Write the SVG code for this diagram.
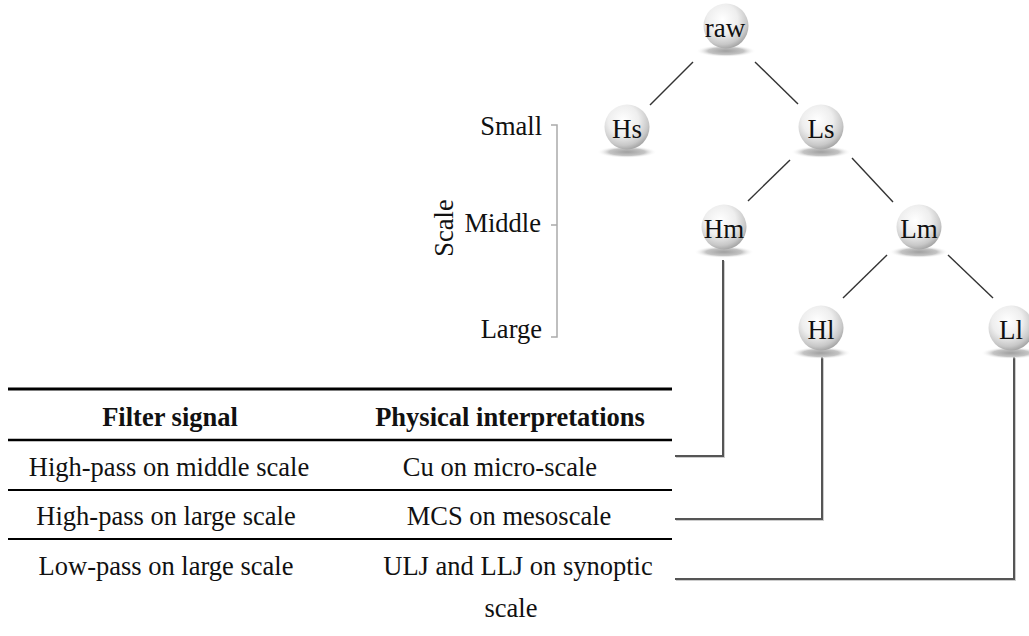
<svg xmlns="http://www.w3.org/2000/svg" width="1029" height="636" viewBox="0 0 1029 636">
<style>
.nl{font-size:27px;text-anchor:middle;fill:#111;}
.sl{font-size:26.5px;text-anchor:end;fill:#111;}
.tb{font-size:26.5px;text-anchor:middle;fill:#111;}
.th{font-size:26.5px;font-weight:bold;text-anchor:middle;fill:#111;}
.edge{stroke:#333;stroke-width:1.4;fill:none;}
.conn{stroke:#555;stroke-width:2;fill:none;}
.connsh{stroke:#ccc;stroke-width:2;fill:none;}
.brk{stroke:#aaa;stroke-width:1.5;fill:none;}
.rule{stroke:#000;}
</style>
<defs>
<radialGradient id="ball" cx="0.42" cy="0.35" r="0.68">
<stop offset="0" stop-color="#ffffff"/>
<stop offset="0.5" stop-color="#eeeeee"/>
<stop offset="0.82" stop-color="#c8c8c8"/>
<stop offset="1" stop-color="#9f9f9f"/>
</radialGradient>
<radialGradient id="shadow" cx="0.5" cy="0.5" r="0.5">
<stop offset="0" stop-color="#a0a0a0"/>
<stop offset="0.6" stop-color="#c4c4c4"/>
<stop offset="1" stop-color="#ffffff" stop-opacity="0"/>
</radialGradient>
<g id="sphere">
<ellipse cx="0" cy="25" rx="30" ry="6" fill="url(#shadow)"/>
<circle cx="0" cy="0" r="22.5" fill="url(#ball)"/>
</g>
</defs>
<rect width="1029" height="636" fill="#fff"/>

<g id="connectors">
<line class="edge" x1="693" y1="62" x2="650" y2="105"/>
<line class="edge" x1="755" y1="62" x2="798" y2="104"/>
<line class="edge" x1="790" y1="160" x2="748" y2="201"/>
<line class="edge" x1="852" y1="158" x2="893" y2="202"/>
<line class="edge" x1="887" y1="255" x2="843" y2="298"/>
<line class="edge" x1="948" y1="255" x2="993" y2="298"/>
<path class="connsh" d="M724,261 V457 H676"/>
<path class="connsh" d="M823,358 V520 H676"/>
<path class="connsh" d="M1015,358 V580 H676"/>
<path class="conn" d="M723,260 V456 H675"/>
<path class="conn" d="M822,357 V519 H675"/>
<path class="conn" d="M1014,357 V579 H675"/>
</g>

<g id="node-raw"><use href="#sphere" x="726" y="26"/><text class="nl" font-family="Liberation Serif, serif" x="725" y="37">raw</text></g>
<g id="node-Hs"><use href="#sphere" x="627" y="127"/><text class="nl" font-family="Liberation Serif, serif" x="627" y="138">Hs</text></g>
<g id="node-Ls"><use href="#sphere" x="821" y="127"/><text class="nl" font-family="Liberation Serif, serif" x="821" y="138">Ls</text></g>
<g id="node-Hm"><use href="#sphere" x="724" y="227"/><text class="nl" font-family="Liberation Serif, serif" x="724" y="238">Hm</text></g>
<g id="node-Lm"><use href="#sphere" x="919" y="227"/><text class="nl" font-family="Liberation Serif, serif" x="919" y="238">Lm</text></g>
<g id="node-Hl"><use href="#sphere" x="821" y="328"/><text class="nl" font-family="Liberation Serif, serif" x="821" y="339">Hl</text></g>
<g id="node-Ll"><use href="#sphere" x="1011" y="328"/><text class="nl" font-family="Liberation Serif, serif" x="1011" y="339">Ll</text></g>

<g id="scale-axis">
<path class="brk" d="M551,125 H557 V337 H551 M551,225 H557"/>
<text class="sl" font-family="Liberation Serif, serif" x="542" y="135">Small</text>
<text class="sl" font-family="Liberation Serif, serif" x="541" y="232">Middle</text>
<text class="sl" font-family="Liberation Serif, serif" x="542" y="338">Large</text>
<text font-family="Liberation Serif, serif" font-size="26.5" fill="#111" text-anchor="middle" transform="translate(453,228) rotate(-90)">Scale</text>
</g>

<g id="table">
<line class="rule" x1="8" y1="389" x2="672" y2="389" stroke-width="3"/>
<line class="rule" x1="8" y1="440" x2="672" y2="440" stroke-width="2.6"/>
<line class="rule" x1="8" y1="490" x2="672" y2="490" stroke-width="2.2"/>
<line class="rule" x1="8" y1="539" x2="672" y2="539" stroke-width="2.2"/>
<text class="th" font-family="Liberation Serif, serif" x="170" y="426">Filter signal</text>
<text class="th" font-family="Liberation Serif, serif" x="510" y="426">Physical interpretations</text>
<text class="tb" font-family="Liberation Serif, serif" x="169" y="476">High-pass on middle scale</text>
<text class="tb" font-family="Liberation Serif, serif" x="500" y="476">Cu on micro-scale</text>
<text class="tb" font-family="Liberation Serif, serif" x="166" y="525">High-pass on large scale</text>
<text class="tb" font-family="Liberation Serif, serif" x="509" y="525">MCS on mesoscale</text>
<text class="tb" font-family="Liberation Serif, serif" x="166" y="575">Low-pass on large scale</text>
<text class="tb" font-family="Liberation Serif, serif" x="518" y="575">ULJ and LLJ on synoptic</text>
<text class="tb" font-family="Liberation Serif, serif" x="511" y="617">scale</text>
</g>
</svg>
